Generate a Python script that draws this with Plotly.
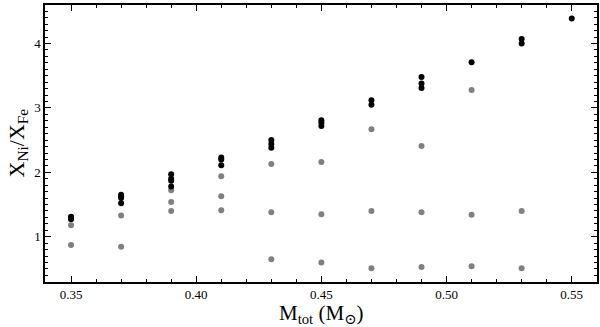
import plotly.graph_objects as go

# dark points: (M_tot, X_Ni/X_Fe)
dark_mass = [0.35, 0.35, 0.35,
             0.37, 0.37, 0.37, 0.37,
             0.39, 0.39, 0.39, 0.39,
             0.41, 0.41, 0.41,
             0.43, 0.43, 0.43,
             0.45, 0.45, 0.45,
             0.47, 0.47,
             0.49, 0.49, 0.49,
             0.51,
             0.53, 0.53,
             0.55]
dark_ratio = [1.27, 1.29, 1.31,
              1.52, 1.60, 1.63, 1.65,
              1.78, 1.87, 1.90, 1.97,
              2.11, 2.20, 2.23,
              2.38, 2.44, 2.50,
              2.72, 2.77, 2.81,
              3.05, 3.12,
              3.31, 3.38, 3.48,
              3.71,
              4.00, 4.07,
              4.39]

# grey points
grey_mass = [0.35, 0.35,
             0.37, 0.37,
             0.39, 0.39, 0.39,
             0.41, 0.41, 0.41,
             0.43, 0.43, 0.43,
             0.45, 0.45, 0.45,
             0.47, 0.47, 0.47,
             0.49, 0.49, 0.49,
             0.51, 0.51, 0.51,
             0.53, 0.53]
grey_ratio = [1.18, 0.87,
              1.33, 0.845,
              1.72, 1.54, 1.40,
              1.94, 1.63, 1.41,
              2.13, 1.38, 0.65,
              2.16, 1.35, 0.60,
              2.67, 1.40, 0.51,
              2.41, 1.38, 0.53,
              3.28, 1.34, 0.54,
              1.40, 0.51]

x_ticks = [0.35, 0.40, 0.45, 0.50, 0.55]
x_labels = ["0.35", "0.40", "0.45", "0.50", "0.55"]
y_ticks = [1, 2, 3, 4]
x_range = [0.3396, 0.5601]
y_range = [0.297, 4.598]

serif = "Liberation Serif, DejaVu Serif, serif"

fig = go.Figure()
fig.add_trace(go.Scatter(x=grey_mass, y=grey_ratio, mode="markers",
                         marker=dict(color="#808080", size=6), showlegend=False,
                         hoverinfo="skip"))
fig.add_trace(go.Scatter(x=dark_mass, y=dark_ratio, mode="markers",
                         marker=dict(color="black", size=6), showlegend=False,
                         hoverinfo="skip"))
# invisible trace so the top/right tick axes get drawn
fig.add_trace(go.Scatter(x=dark_mass[:1], y=dark_ratio[:1], xaxis="x2", yaxis="y2",
                         mode="markers", marker=dict(opacity=0), showlegend=False,
                         hoverinfo="skip"))

axis_common = dict(
    showline=True, linecolor="black", linewidth=1.5,
    ticks="inside", ticklen=6, tickwidth=1, tickcolor="black",
    showgrid=False, zeroline=False, automargin=False,
    tickfont=dict(family=serif, size=13, color="black"),
)
x_minor = dict(dtick=0.01, tick0=0.35, ticks="inside", ticklen=3, tickcolor="black", showgrid=False)
y_minor = dict(dtick=0.1, tick0=0, ticks="inside", ticklen=3, tickcolor="black", showgrid=False)

fig.update_layout(
    width=600, height=327,
    margin=dict(l=45, r=3, t=5, b=45),
    plot_bgcolor="white", paper_bgcolor="white",
    xaxis=dict(range=x_range, tickvals=x_ticks, ticktext=x_labels, minor=x_minor, **axis_common),
    yaxis=dict(range=y_range, tickvals=y_ticks, minor=y_minor, **axis_common),
    xaxis2=dict(range=x_range, tickvals=x_ticks, minor=x_minor, overlaying="x", side="top",
                showticklabels=False, **axis_common),
    yaxis2=dict(range=y_range, tickvals=y_ticks, minor=y_minor, overlaying="y", side="right",
                showticklabels=False, **axis_common),
    annotations=[
        dict(text="M<sub>tot</sub> (M<sub>⊙</sub>)", xref="paper", yref="paper",
             x=0.5, y=0, yshift=-17, xanchor="center", yanchor="top", showarrow=False,
             font=dict(family=serif, size=21, color="black")),
        dict(text="X<sub>Ni</sub>/X<sub>Fe</sub>", xref="paper", yref="paper",
             x=0, y=0.5, xshift=-44, xanchor="left", yanchor="middle", showarrow=False,
             textangle=-90, font=dict(family=serif, size=22, color="black")),
    ],
)

fig.write_html("out.html", config={"displayModeBar": False},
               post_script="document.body.style.margin='0';")
